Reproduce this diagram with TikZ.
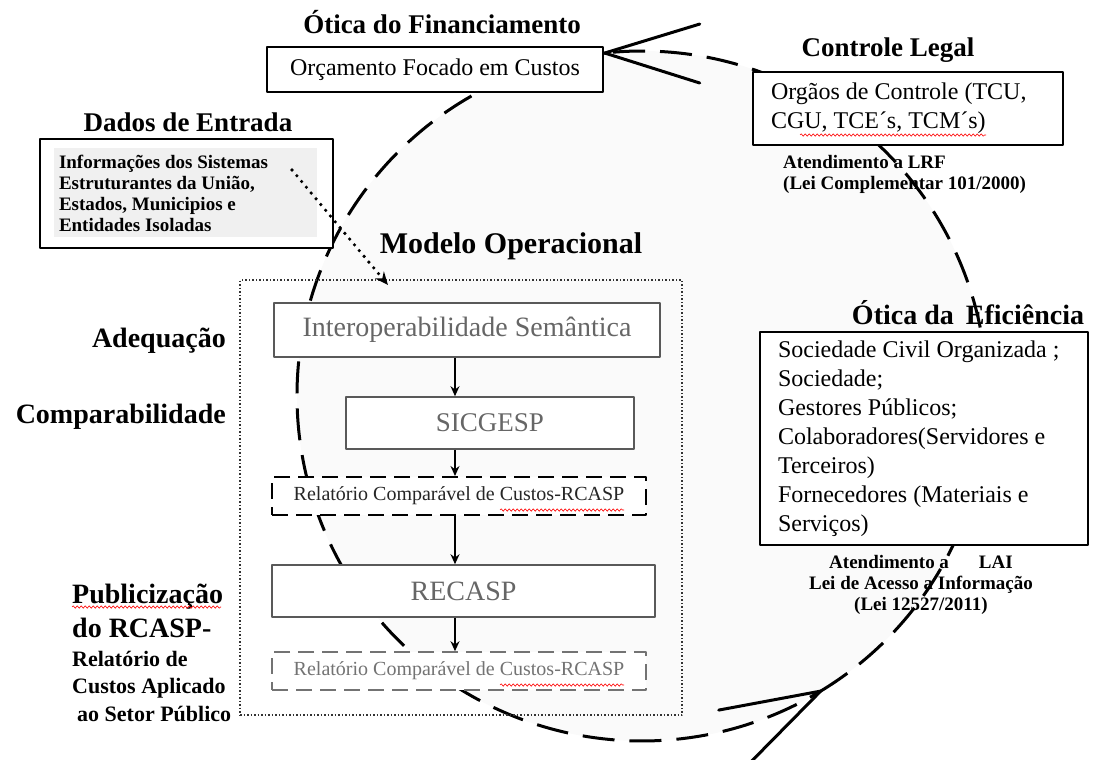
\documentclass[tikz,border=0pt]{standalone}
\usepackage{fontspec}
\setmainfont{Liberation Serif}
\usetikzlibrary{arrows.meta,decorations.pathmorphing}

\newcommand{\fonteTitulo}{\fontsize{27}{32}\selectfont\bfseries}
\newcommand{\fonteCorpo}{\fontsize{24}{29}\selectfont}
\newcommand{\fontePeq}{\fontsize{19}{21}\selectfont\bfseries}

\tikzset{
  titulo/.style={font=\fonteTitulo,inner sep=0pt},
  caixa/.style={draw,line width=1.6pt,fill=white,inner sep=0pt,font=\fonteCorpo},
  caixacinza/.style={caixa,draw=black!65,text=black!60},
  tracejada/.style={caixa,dash pattern=on 16pt off 8pt,line width=2pt,font=\fontsize{20}{24}\selectfont},
  ciclo/.style={line width=3pt,dash pattern=on 32pt off 15pt},
  ponta/.style={line width=3pt,line cap=round},
  seta/.style={->,line width=1.5pt},
  sublinhado/.style={red,line width=0.6pt,decorate,decoration={snake,amplitude=1.2pt,segment length=4pt}},
}

\begin{document}
\begin{tikzpicture}[x=1pt,y=-1pt,line join=round,>={Stealth[length=10pt,width=9pt]}]
  \useasboundingbox (0,0) rectangle (1109,760);

  % ciclo
  \coordinate (c) at (642,396);
  \fill[gray!4] (c) circle[radius=345];
  \draw[ciclo] (c) ++(58.8:345) arc[start angle=58.8,end angle=-96.2,radius=345];
  \draw[ciclo] (c) ++(263.8:345) arc[start angle=263.8,end angle=58.8,radius=345];
  \path (c) ++(263.8:345) coordinate (tipTop) (c) ++(58.8:345) coordinate (tipBot);
  \draw[ponta] (tipTop) ++(95,-29) -- (tipTop) -- ++(95,30);
  \draw[ponta] (tipBot) ++(-102,19) -- (tipBot) -- ++(-71,72);

  % financiamento
  \node[titulo] (tfin) at (442,22) {Ótica do Financiamento};
  \node[caixa,minimum width=336pt,minimum height=45pt] (orc) at (435,69.5) {Orçamento Focado em Custos};

  % controle legal
  \node[titulo] (tctrl) at (888,50) {Controle Legal};
  \node[caixa,minimum width=310pt,minimum height=73pt,text width=274pt,align=flush left] (ctrl) at (908,108.5) {Orgãos de Controle (TCU,\\CGU, TCE´s, TCM´s)};
  \node[font=\fontePeq,inner sep=0pt,align=left,anchor=west] (lrf) at (783,174) {Atendimento a LRF\\(Lei Complementar 101/2000)};

  % dados de entrada
  \node[titulo] (tdados) at (188,122) {Dados de Entrada};
  \node[caixa,minimum width=293pt,minimum height=109pt,text width=255pt,align=flush left,font=\fontePeq,
    path picture={\fill[gray!12] ([shift={(14,9)}]path picture bounding box.north west) rectangle ([shift={(-16,-11)}]path picture bounding box.south east);}]
    (dados) at (186.5,193.5) {Informações dos Sistemas\\Estruturantes da União,\\Estados, Municipios e\\Entidades Isoladas};

  % modelo operacional
  \node[titulo,font=\fontsize{30}{36}\selectfont\bfseries] (tmod) at (511,246) {Modelo Operacional};
  \node[draw=black!80,line width=1.5pt,dash pattern=on 1.5pt off 2pt,minimum width=442pt,minimum height=435pt] (modelo) at (461,497.5) {};
  \node[caixacinza,minimum width=386pt,minimum height=54pt,font=\fontsize{28}{34}\selectfont] (inter) at (467,330) {Interoperabilidade Semântica};
  \node[caixacinza,minimum width=288pt,minimum height=52pt,font=\fontsize{27}{32}\selectfont] (sic) at (490,423) {SICGESP};
  \node[tracejada,minimum width=374pt,minimum height=38pt,text=black!85] (rel1) at (459,496) {Relatório Comparável de Custos-RCASP};
  \node[caixacinza,minimum width=383pt,minimum height=52pt,font=\fontsize{28}{34}\selectfont] (recasp) at (463.5,591) {RECASP};
  \node[tracejada,draw=black!55,line width=1.6pt,minimum width=374pt,minimum height=38pt,text=black!55] (rel2) at (459,671) {Relatório Comparável de Custos-RCASP};

  \coordinate (col) at (455,0);
  \draw[seta] (inter.south -| col) -- (sic.north -| col);
  \draw[seta] (sic.south -| col) -- (rel1.north -| col);
  \draw[seta] (rel1.south -| col) -- (recasp.north -| col);
  \draw[seta] (recasp.south -| col) -- (rel2.north -| col);

  % rotulos da esquerda
  \node[titulo,font=\fontsize{28}{34}\selectfont\bfseries,anchor=east] (adeq) at (226,341) {Adequação};
  \node[titulo,font=\fontsize{28}{34}\selectfont\bfseries,anchor=east] (comp) at (226,417) {Comparabilidade};
  \node[titulo,font=\fontsize{28}{34}\selectfont\bfseries,align=left,anchor=west] (pub) at (72,611) {Publicização\\do RCASP-};
  \node[titulo,font=\fontsize{22}{27.5}\selectfont\bfseries,align=left,anchor=west] (pub2) at (72,686) {Relatório de\\Custos Aplicado\\\hspace*{5pt}ao Setor Público};

  % eficiencia
  \node[titulo,font=\fontsize{28}{34}\selectfont\bfseries] (tefic) at (968,313) {Ótica da\hspace{12pt}Eficiência};
  \node[caixa,minimum width=328pt,minimum height=213pt,text width=292pt,align=flush left] (efic) at (924,438.5)
    {Sociedade Civil Organizada ;\\Sociedade;\\Gestores Públicos;\\Colaboradores(Servidores e\\Terceiros)\\Fornecedores (Materiais e\\Serviços)};
  \node[font=\fontePeq,inner sep=0pt,align=center] (lai) at (921,585) {Atendimento a\hspace{30pt}LAI\\Lei de Acesso a Informação\\(Lei 12527/2011)};

  % entrada de dados
  \coordinate (dIni) at (292,170);
  \coordinate (dFim) at (388,285);
  \draw[line width=3.6pt,line cap=round,dash pattern=on 0pt off 7.5pt,-{Stealth[length=13pt,width=11pt]}] (dIni) -- (dFim);

  % marcas do corretor
  \draw[sublinhado] (72,607) -- (221,607);
  \draw[sublinhado] (800,135) -- (986,135);
  \draw[sublinhado] (500,510) -- (624,510);
  \draw[sublinhado] (500,685) -- (624,685);
\end{tikzpicture}
\end{document}
